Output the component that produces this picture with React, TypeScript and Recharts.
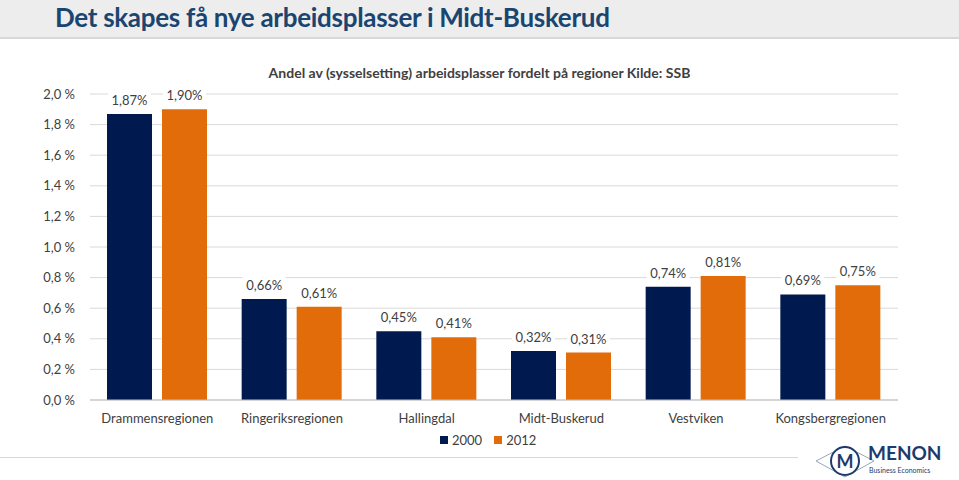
import React from 'react';
import { BarChart, Bar, XAxis, YAxis, CartesianGrid, LabelList } from 'recharts';

const regions = ['Drammensregionen', 'Ringeriksregionen', 'Hallingdal', 'Midt-Buskerud', 'Vestviken', 'Kongsbergregionen'];
const values2000 = [1.87, 0.66, 0.45, 0.32, 0.74, 0.69];
const values2012 = [1.90, 0.61, 0.41, 0.31, 0.81, 0.75];
const yTicks = [0, 0.2, 0.4, 0.6, 0.8, 1.0, 1.2, 1.4, 1.6, 1.8, 2.0];

const data = regions.map((r, i) => ({ region: r, y2000: values2000[i], y2012: values2012[i] }));

const NAVY = '#001a4f';
const ORANGE = '#e36c0a';
const FONT = 'Lato, "Open Sans", sans-serif';

const fmtTick = (v: number) => v.toFixed(1).replace('.', ',') + ' %';
const fmtLabel = (v: number) => v.toFixed(2).replace('.', ',') + '%';

const BoxLabel = (props: any) => {
  const { x, y, width, value } = props;
  const cx = x + width / 2;
  const txt = fmtLabel(value);
  const w = txt.length * 7 + 8;
  return (
    <g>
      <rect x={cx - w / 2} y={y - 22} width={w} height={17} fill="#ffffff" />
      <text x={cx} y={y - 9} textAnchor="middle" fontSize={13} fill="#404040" fontFamily={FONT}>{txt}</text>
    </g>
  );
};

export default function App() {
  return (
    <div style={{ position: 'absolute', left: 0, top: 0, width: 959, height: 480, background: '#fff', fontFamily: FONT, overflow: 'hidden' }}>
      <div style={{ position: 'absolute', left: 0, top: 0, width: 959, height: 37, background: '#ededed', borderBottom: '2px solid #d8d8d8' }} />
      <div style={{ position: 'absolute', left: 55, top: 0, lineHeight: '34px', fontSize: 26, fontWeight: 700, color: '#1a4570', letterSpacing: -0.3, whiteSpace: 'nowrap' }}>
        Det skapes få nye arbeidsplasser i Midt-Buskerud
      </div>
      <div style={{ position: 'absolute', left: 0, top: 0 }}>
        <BarChart width={959} height={480} data={data} margin={{ top: 94, right: 61, left: 0, bottom: 50 }} barSize={45} barGap={10} barCategoryGap={17}>
          <CartesianGrid vertical={false} stroke="#d9d9d9" />
          <XAxis dataKey="region" height={30} tickLine={false} axisLine={{ stroke: '#bfbfbf' }} tick={{ fontSize: 13, fill: '#404040', fontFamily: FONT }} tickMargin={8} interval={0} />
          <YAxis width={90} domain={[0, 2]} ticks={yTicks} tickFormatter={fmtTick} axisLine={false} tickLine={false} tick={{ fontSize: 13, fill: '#404040', fontFamily: FONT }} tickMargin={9} />
          <Bar dataKey="y2000" fill={NAVY} isAnimationActive={false}>
            <LabelList dataKey="y2000" content={BoxLabel} />
          </Bar>
          <Bar dataKey="y2012" fill={ORANGE} isAnimationActive={false}>
            <LabelList dataKey="y2012" content={BoxLabel} />
          </Bar>
        </BarChart>
      </div>
      <div style={{ position: 'absolute', left: 0, width: 959, top: 64, textAlign: 'center', fontSize: 14, fontWeight: 700, color: '#404040' }}>
        <span>Andel av (sysselsetting) arbeidsplasser fordelt på regioner Kilde: SSB</span>
      </div>
      <div style={{ position: 'absolute', left: 440, top: 432, fontSize: 13, color: '#404040', display: 'flex', alignItems: 'center', whiteSpace: 'nowrap' }}>
        <span style={{ display: 'inline-block', width: 8, height: 8, background: NAVY, marginRight: 4 }} />
        <span>2000</span>
        <span style={{ display: 'inline-block', width: 8, height: 8, background: ORANGE, marginLeft: 12, marginRight: 4 }} />
        <span>2012</span>
      </div>
      <div style={{ position: 'absolute', left: 0, top: 457, width: 798, height: 1, background: '#d8d8d8' }} />
      <svg style={{ position: 'absolute', left: 810, top: 440 }} width={149} height={40}>
        <polygon points="6,21 35,6 64,21 35,37" fill="none" stroke="#9aa6b8" strokeWidth={1} />
        <circle cx={35} cy={21} r={14} fill="#fff" stroke="#1d3b6b" strokeWidth={2} />
        <text x={35} y={28} textAnchor="middle" fontSize={18} fontWeight={700} fill="#1d3b6b" fontFamily={FONT}>M</text>
        <text x={58} y={20} fontSize={19} fontWeight={700} fill="#1d3b6b" fontFamily={FONT}>MENON</text>
        <text x={59} y={33} fontSize={7} fill="#1d3b6b" fontFamily={FONT}>Business Economics</text>
      </svg>
    </div>
  );
}
